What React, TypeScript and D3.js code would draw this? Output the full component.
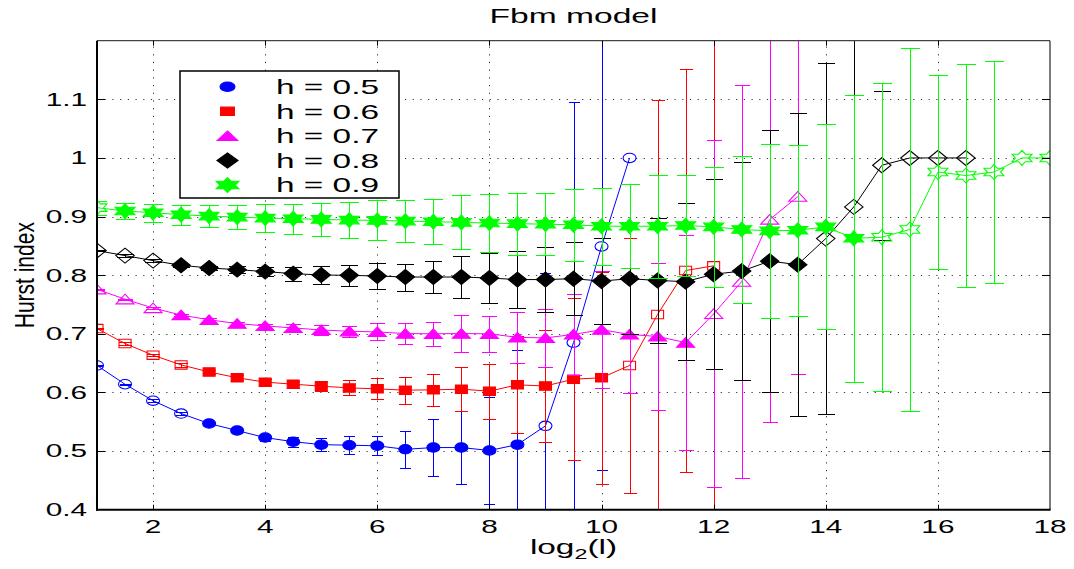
import React from 'react';
import * as d3 from 'd3';

// ---- data ----
const logL = [1, 1.5, 2, 2.5, 3, 3.5, 4, 4.5, 5, 5.5, 6, 6.5, 7, 7.5, 8, 8.5, 9, 9.5, 10, 10.5, 11, 11.5, 12, 12.5, 13, 13.5, 14, 14.5, 15, 15.5, 16, 16.5, 17, 17.5, 18];

const xTicks = [2, 4, 6, 8, 10, 12, 14, 16, 18];
const yTicks = [0.4, 0.5, 0.6, 0.7, 0.8, 0.9, 1.0, 1.1];
const yTickLabels = ['0.4', '0.5', '0.6', '0.7', '0.8', '0.9', '1', '1.1'];

const h05 = [0.646, 0.614, 0.586, 0.564, 0.547, 0.535, 0.523, 0.516, 0.511, 0.510, 0.509, 0.503, 0.506, 0.506, 0.501, 0.511, 0.543, 0.685, 0.849, 1.0];
const h05Err = [0.001, 0.001, 0.002, 0.002, 0.003, 0.004, 0.005, 0.0085, 0.011, 0.015, 0.0165, 0.032, 0.048, 0.062, 0.091, 0.161, 0.26, 0.411, 0.381, 0];
const h05Open = [1, 1.5, 2, 2.5, 9, 9.5, 10, 10.5];

const h06 = [0.709, 0.6835, 0.6635, 0.647, 0.635, 0.625, 0.6176, 0.6141, 0.6107, 0.6078, 0.6061, 0.6039, 0.6044, 0.6056, 0.6022, 0.613, 0.611, 0.6227, 0.625, 0.646, 0.733, 0.808, 0.816];
const h06Err = [0.001, 0.002, 0.002, 0.003, 0.003, 0.004, 0.005, 0.006, 0.0088, 0.013, 0.018, 0.023, 0.027, 0.037, 0.047, 0.083, 0.095, 0.138, 0.181, 0.218, 0.365, 0.344, 0.5];
const h06Open = [1, 1.5, 2, 2.5, 10.5, 11, 11.5, 12];

const h07 = [0.776, 0.759, 0.744, 0.732, 0.724, 0.7175, 0.7135, 0.710, 0.7066, 0.7044, 0.7032, 0.7005, 0.700, 0.7005, 0.700, 0.694, 0.693, 0.699, 0.707, 0.699, 0.6955, 0.685, 0.734, 0.789, 0.895, 0.934];
const h07Err = [0.001, 0.001, 0.002, 0.002, 0.003, 0.003, 0.004, 0.006, 0.008, 0.0094, 0.0145, 0.0176, 0.021, 0.0315, 0.031, 0.044, 0.049, 0.069, 0.1, 0.1, 0.125, 0.183, 0.296, 0.335, 0.346, 0.302];
const h07Open = [1, 1.5, 2, 12, 12.5, 13, 13.5];

const h08 = [0.842, 0.8334, 0.8249, 0.8169, 0.8123, 0.8095, 0.8061, 0.8027, 0.8003, 0.7998, 0.7986, 0.7969, 0.7969, 0.7969, 0.7952, 0.7925, 0.7926, 0.794, 0.79, 0.794, 0.791, 0.789, 0.8017, 0.807, 0.824, 0.818, 0.8625, 0.9165, 0.9875, 1.0, 1.0, 1.0];
const h08Err = [0.001, 0.002, 0.002, 0.003, 0.004, 0.006, 0.008, 0.012, 0.015, 0.018, 0.022, 0.023, 0.028, 0.035, 0.043, 0.048, 0.055, 0.0622, 0.0727, 0.095, 0.107, 0.1335, 0.162, 0.186, 0.224, 0.259, 0.30, 0.298, 0.127, 0, 0, 0];
const h08Open = [1, 1.5, 2, 14, 14.5, 15, 15.5, 16, 16.5];

const h09 = [0.9152, 0.9094, 0.9066, 0.9032, 0.9008, 0.8991, 0.8974, 0.8964, 0.8952, 0.894, 0.8935, 0.8923, 0.8913, 0.8901, 0.889, 0.8879, 0.887, 0.886, 0.8835, 0.8835, 0.8835, 0.8847, 0.8824, 0.878, 0.8756, 0.8767, 0.8824, 0.863, 0.8648, 0.878, 0.976, 0.97, 0.976, 1.0, 1.0];
const h09Err = [0.012, 0.014, 0.0153, 0.017, 0.019, 0.021, 0.024, 0.0256, 0.028, 0.031, 0.034, 0.0355, 0.0386, 0.046, 0.049, 0.053, 0.0526, 0.061, 0.066, 0.0716, 0.0877, 0.086, 0.1026, 0.126, 0.148, 0.1455, 0.175, 0.245, 0.263, 0.31, 0.165, 0.19, 0.19, 0, 0];
const h09Open = [1, 15, 15.5, 16, 16.5, 17, 17.5, 18];

const seriesNames = ['h = 0.5', 'h = 0.6', 'h = 0.7', 'h = 0.8', 'h = 0.9'];
const seriesColors = ['#0000ff', '#ff0000', '#ff00ff', '#000000', '#00ff00'];
const seriesMarkers = ['circle', 'square', 'triangle', 'diamond', 'hexagram'];

const series = [
  { values: h05, err: h05Err, open: h05Open },
  { values: h06, err: h06Err, open: h06Open },
  { values: h07, err: h07Err, open: h07Open },
  { values: h08, err: h08Err, open: h08Open },
  { values: h09, err: h09Err, open: h09Open },
].map((s, i) => ({ ...s, name: seriesNames[i], color: seriesColors[i], marker: seriesMarkers[i] }));

// ---- layout ----
const W = 1074;
const H = 569;
const L = 97, R = 1050, T = 40.7, B = 509.7;
const FONT = '"Liberation Sans", Arial, Helvetica, sans-serif';

const snap = (v: number) => Math.round(v) + 0.5;

function hexagramPath(rx: number, ry: number): string {
  const pts: string[] = [];
  for (let k = 0; k < 12; k++) {
    const ang = (-90 + k * 30) * Math.PI / 180;
    const r = k % 2 === 0 ? 1 : 1 / Math.sqrt(3);
    pts.push(`${(Math.cos(ang) * r * rx).toFixed(2)},${(Math.sin(ang) * r * ry).toFixed(2)}`);
  }
  return 'M' + pts.join('L') + 'Z';
}

function markerPath(m: string): string {
  switch (m) {
    case 'circle':
      return 'M-6.5,0A6.5,4.7 0 1 0 6.5,0A6.5,4.7 0 1 0 -6.5,0Z';
    case 'square':
      return 'M-6,-4.2H6V4.2H-6Z';
    case 'triangle':
      return 'M0,-5L9,4.6L-9,4.6Z';
    case 'diamond':
      return 'M0,-7.5L9.2,0L0,7.5L-9.2,0Z';
    default:
      return hexagramPath(11.5, 7.5);
  }
}

function SText(props: { x: number; y: number; sx: number; size: number; anchor?: string; rotate?: number; children: React.ReactNode }) {
  const { x, y, sx, size, anchor = 'start', rotate = 0, children } = props;
  return (
    <text
      transform={`translate(${x},${y}) scale(${sx},1)${rotate ? ` rotate(${rotate})` : ''}`}
      textAnchor={anchor}
      fontSize={size}
      fontFamily={FONT}
      fill="#000"
    >
      {children}
    </text>
  );
}

export default function App() {
  const x = d3.scaleLinear().domain([1, 18]).range([L, R]);
  const y = d3.scaleLinear().domain([0.4, 1.2]).range([B, T]);

  const gridX = xTicks.filter((t) => t > 1 && t < 18);
  const gridY = yTicks.filter((t) => t > 0.4 && t < 1.2);

  return (
    <svg width={W} height={H} style={{ position: 'absolute', left: 0, top: 0, background: '#fff' }}>
      <defs>
        <clipPath id="plotClip">
          <rect x={L} y={T} width={R - L} height={B - T} />
        </clipPath>
      </defs>
      <rect x={0} y={0} width={W} height={H} fill="#fff" />

      {/* grid */}
      <g stroke="#333" strokeWidth={1} strokeDasharray="1.2,6.5">
        {gridX.map((t) => (
          <line key={'gx' + t} x1={snap(x(t))} x2={snap(x(t))} y1={B} y2={T} />
        ))}
        {gridY.map((t) => (
          <line key={'gy' + t} x1={L} x2={R} y1={snap(y(t))} y2={snap(y(t))} />
        ))}
      </g>

      {/* data */}
      <g clipPath="url(#plotClip)">
        {series.map((s, si) => {
          const xs = logL.slice(0, s.values.length);
          const cap = ((xs[xs.length - 1] - xs[0]) / 100) * (x(2) - x(1));
          const line = d3
            .line<number>()
            .x((_, i) => x(xs[i]))
            .y((d) => y(d));
          return (
            <g key={'s' + si}>
              <g stroke={s.color} strokeWidth={1} shapeRendering="crispEdges">
                {s.values.map((v, i) => {
                  const e = s.err[i];
                  if (!e) return null;
                  const cx = snap(x(xs[i]));
                  const y1 = snap(y(v - e));
                  const y2 = snap(y(v + e));
                  return (
                    <g key={'e' + i}>
                      <line x1={cx} x2={cx} y1={y1} y2={y2} />
                      <line x1={cx - cap} x2={cx + cap} y1={y1} y2={y1} />
                      <line x1={cx - cap} x2={cx + cap} y1={y2} y2={y2} />
                    </g>
                  );
                })}
              </g>
              <path d={line(s.values) || ''} fill="none" stroke={s.color} strokeWidth={1} />
              {s.values.map((v, i) => {
                const isOpen = s.open.includes(xs[i]);
                return (
                  <path
                    key={'m' + i}
                    d={markerPath(s.marker)}
                    transform={`translate(${x(xs[i])},${y(v)})`}
                    fill={isOpen ? 'none' : s.color}
                    stroke={s.color}
                    strokeWidth={1.1}
                  />
                );
              })}
            </g>
          );
        })}
      </g>

      {/* axes box */}
      <line x1={L} x2={R} y1={T} y2={T} stroke="#444" strokeWidth={1.2} />
      <line x1={R} x2={R} y1={T} y2={B} stroke="#222" strokeWidth={1.2} />
      <line x1={L - 1} x2={R + 0.6} y1={B} y2={B} stroke="#000" strokeWidth={2} />
      <line x1={L} x2={L} y1={T} y2={B + 1} stroke="#000" strokeWidth={2} />

      {/* ticks */}
      <g stroke="#000" strokeWidth={1}>
        {gridX.map((t) => (
          <g key={'tx' + t}>
            <line x1={snap(x(t))} x2={snap(x(t))} y1={B} y2={B - 5} />
            <line x1={snap(x(t))} x2={snap(x(t))} y1={T} y2={T + 5} />
          </g>
        ))}
        {gridY.map((t) => (
          <g key={'ty' + t}>
            <line x1={L} x2={L + 8} y1={snap(y(t))} y2={snap(y(t))} />
            <line x1={R} x2={R - 8} y1={snap(y(t))} y2={snap(y(t))} />
          </g>
        ))}
      </g>

      {/* tick labels */}
      {xTicks.map((t) => (
        <SText key={'lx' + t} x={x(t)} y={533} sx={1.7} size={17.5} anchor="middle">
          {String(t)}
        </SText>
      ))}
      {yTicks.map((t, i) => (
        <SText key={'ly' + t} x={87} y={y(t) + 6.3} sx={1.7} size={17.5} anchor="end">
          {yTickLabels[i]}
        </SText>
      ))}

      {/* title and axis labels */}
      <SText x={(L + R) / 2} y={23} sx={1.6} size={21} anchor="middle">
        Fbm model
      </SText>
      <text
        transform={`translate(${(L + R) / 2},554) scale(1.67,1)`}
        textAnchor="middle"
        fontSize={20}
        fontFamily={FONT}
      >
        log
        <tspan fontSize={14} dy={5}>2</tspan>
        <tspan dy={-5}>(l)</tspan>
      </text>
      <SText x={33.5} y={(T + B) / 2} sx={1.3} size={21} anchor="middle" rotate={-90}>
        Hurst index
      </SText>

      {/* legend */}
      <rect x={180} y={71} width={219} height={127} fill="#fff" stroke="#000" strokeWidth={1.5} />
      {series.map((s, i) => {
        const cy = 86.7 + i * 24.6;
        return (
          <g key={'lg' + i}>
            <path d={markerPath(s.marker)} transform={`translate(227.5,${cy}) scale(1.15,1)`} fill={s.color} stroke={s.color} strokeWidth={1} />
            <SText x={276} y={cy + 7.2} sx={1.67} size={20}>
              {s.name}
            </SText>
          </g>
        );
      })}
    </svg>
  );
}
